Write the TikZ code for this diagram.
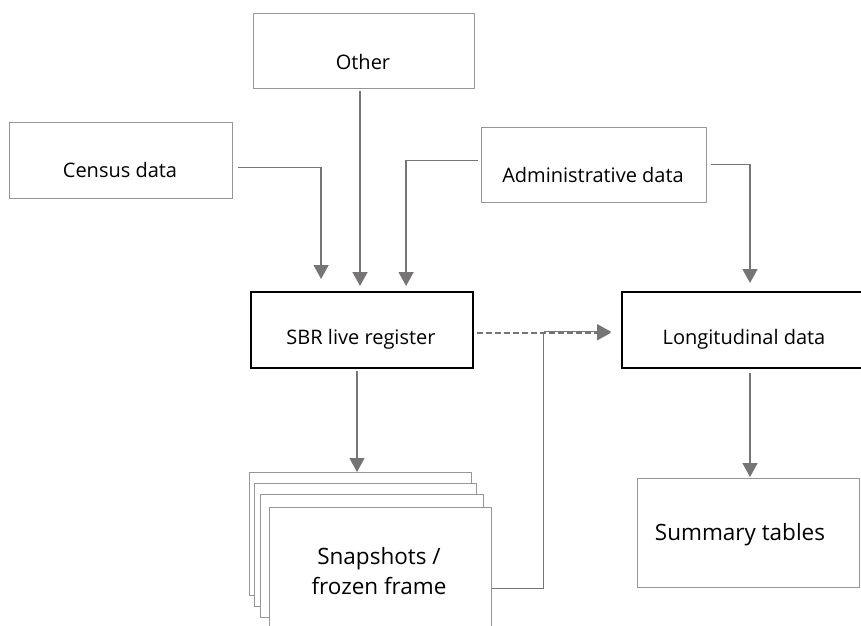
\documentclass[tikz,border=0pt]{standalone}
\usepackage{fontspec}
\setmainfont{Open Sans}
\usetikzlibrary{arrows.meta}
\definecolor{linegray}{RGB}{118,116,116}
\definecolor{boxgray}{RGB}{150,150,150}
\begin{document}
\begin{tikzpicture}[x=1pt,y=-1pt,
  thinbox/.style={draw=boxgray,line width=1.2pt,fill=white,rectangle,anchor=north west,inner sep=0pt},
  thickbox/.style={draw=black,line width=2.2pt,fill=white,rectangle,anchor=north west,inner sep=0pt},
  lbl/.style={font=\fontsize{20}{24}\selectfont,inner sep=0pt,align=center},
  biglbl/.style={font=\fontsize{22.5}{30}\selectfont,inner sep=0pt,align=center},
  arr/.style={draw=linegray,line width=1.5pt,-{Triangle[length=14pt,width=15pt]}},
  link/.style={draw=linegray,line width=1.5pt}]
\useasboundingbox (0,0) rectangle (861,625);
\clip (0,0) rectangle (861,625);

% source boxes
\node[thinbox,minimum width=221pt,minimum height=75pt] (other) at (253,13) {};
\node[lbl] (othertxt) at (363,62) {Other};
\node[thinbox,minimum width=223pt,minimum height=76pt] (census) at (9,122) {};
\node[lbl] (censustxt) at (120,170) {Census data};
\node[thinbox,minimum width=225pt,minimum height=75pt] (admin) at (481,127) {};
\node[lbl] (admintxt) at (593,175) {Administrative data};

% registers
\node[thickbox,minimum width=222pt,minimum height=76pt] (sbr) at (250,291) {};
\node[lbl] (sbrtxt) at (361,339) {SBR live register};
\node[thickbox,minimum width=250pt,minimum height=76pt] (longi) at (621,291) {};
\node[lbl] (longitxt) at (744,339) {Longitudinal data};

% stacked snapshots
\node[thinbox,minimum width=222pt,minimum height=123pt] (snapa) at (249,472) {};
\node[thinbox,minimum width=222pt,minimum height=123pt] (snapb) at (254,483) {};
\node[thinbox,minimum width=223pt,minimum height=123pt] (snapc) at (260,494) {};
\node[thinbox,minimum width=222pt,minimum height=140pt] (snapd) at (268.5,507) {};
\node[biglbl] (snaptxt) at (379,571) {Snapshots /\\frozen frame};

% summary
\node[thinbox,minimum width=222pt,minimum height=109pt] (summary) at (636.5,478) {};
\node[biglbl] (summarytxt) at (740,535) {Summary tables};

% feeds into the live register
\draw[arr,shorten >=12pt] ([xshift=5pt,yshift=-7pt]census.east) -| ([xshift=-41pt]sbr.north);
\draw[arr,shorten >=5pt,shorten <=2pt] (other.south -| 360,0) -- (sbr.north -| 360,0);
\draw[arr,shorten >=5pt] ([xshift=-3pt,yshift=4.5pt]admin.west) -| ([xshift=44pt]sbr.north);
\draw[arr,shorten >=8pt] ([xshift=4pt,yshift=0.5pt]admin.east) -| (longi.north -| 750,0);

% outputs
\draw[arr,shorten <=2pt] (sbr.south -| 357,0) -- (snapa.north -| 357,0);
\draw[arr,dashed,dash pattern=on 6pt off 3pt,shorten <=3pt,shorten >=10pt] ([yshift=-2.7pt]sbr.east) -- ([yshift=-2.7pt]longi.west);
\coordinate (join) at (543.5,331.7);
\draw[link] ([yshift=-11pt]snapd.east) -| (join);
\draw[arr,shorten >=10pt] (join) -- (join -| longi.west);
\draw[arr,shorten <=4pt,shorten >=1pt] (longi.south -| 750,0) -- (summary.north -| 750,0);
\end{tikzpicture}
\end{document}
